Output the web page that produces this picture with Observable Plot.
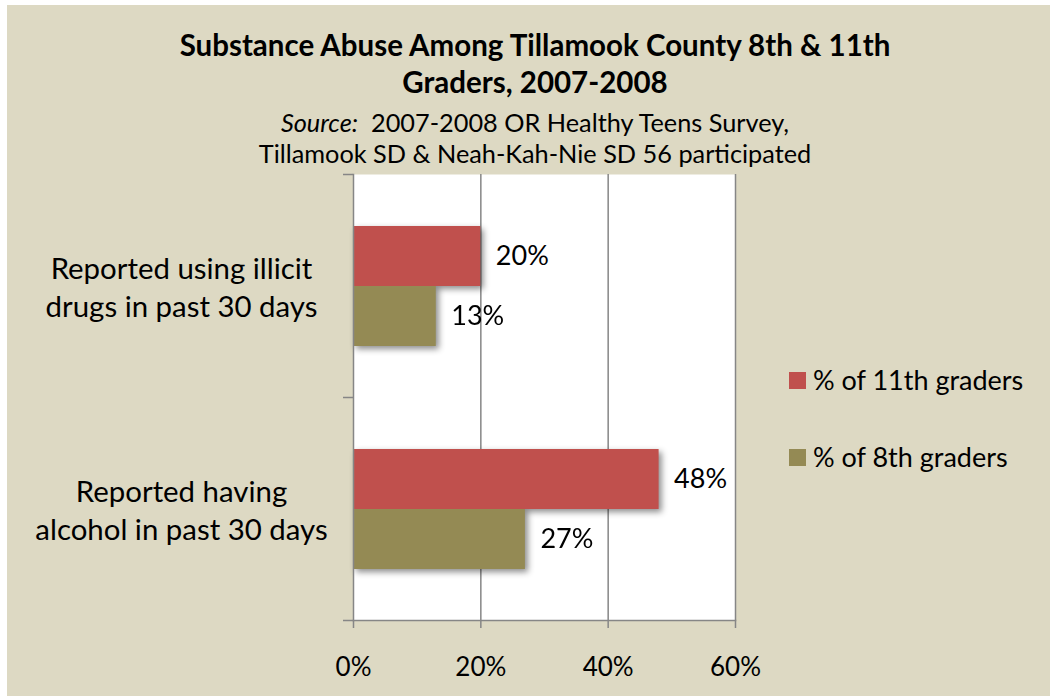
<!DOCTYPE html>
<html>
<head>
<meta charset="utf-8">
<script src="https://cdn.jsdelivr.net/npm/d3@7"></script>
<script src="https://cdn.jsdelivr.net/npm/@observablehq/plot@0.6"></script>
<style>
  html, body { margin: 0; padding: 0; background: #ffffff; }
  #wrap { position: relative; width: 1050px; height: 696px; overflow: hidden; font-family: Lato, "Open Sans", sans-serif; color: #000; }
  #panel { position: absolute; left: 7px; top: 5px; width: 1043px; height: 691px; background: #ddd9c3; }
  #chart { position: absolute; left: 0; top: 0; }
  #title { position: absolute; left: 35px; width: 1000px; top: 26px; text-align: center; font-weight: bold; font-size: 29.5px; line-height: 37px; white-space: nowrap; }
  #subtitle { position: absolute; left: 35px; width: 1000px; top: 107px; text-align: center; font-size: 25.3px; line-height: 31px; white-space: nowrap; }
  .legend-item { position: absolute; left: 789px; display: flex; align-items: center; font-size: 27px; line-height: 32px; white-space: nowrap; }
  .swatch { width: 17px; height: 17px; margin-right: 7px; flex: none; }
  g[aria-label="bar"] { filter: drop-shadow(3px 3px 3px rgba(0,0,0,0.45)); }
</style>
</head>
<body>
<div id="wrap">
  <div id="panel"></div>
  <div id="chart"></div>
  <div id="title">Substance Abuse Among Tillamook County 8th &amp; 11th<br>Graders, 2007-2008</div>
  <div id="subtitle"><i>Source:</i>&nbsp; 2007-2008 OR Healthy Teens Survey,<br>Tillamook SD &amp; Neah-Kah-Nie SD 56 participated</div>
  <div id="legend"></div>
</div>
<script>
// ---- data ----
const categories = ["Reported using illicit drugs in past 30 days", "Reported having alcohol in past 30 days"];
const categoryLines = [["Reported using illicit", "drugs in past 30 days"], ["Reported having", "alcohol in past 30 days"]];
const series = ["% of 11th graders", "% of 8th graders"];
const values11th = [20, 48];
const values8th = [13, 27];
const xTicks = [0, 20, 40, 60];
const colors = ["#c0504d", "#948a54"];

// ---- table ----
const table = [];
categories.forEach((c, i) => {
  table.push({category: c, series: series[0], value: values11th[i]});
  table.push({category: c, series: series[1], value: values8th[i]});
});
const labelOf = new Map(categories.map((c, i) => [c, categoryLines[i].join("\n")]));

// ---- layout ----
const W = 1050, H = 696, mL = 353, mR = 315, mT = 174, mB = 76;
const bandH = (H - mT - mB) / categories.length;
const grid = "#868686";

const chart = Plot.plot({
  width: W, height: H,
  marginLeft: mL, marginRight: mR, marginTop: mT, marginBottom: mB,
  style: {background: "transparent", fontFamily: "Lato, 'Open Sans', sans-serif", color: "#000", overflow: "visible"},
  x: {domain: [xTicks[0], xTicks[xTicks.length - 1]], label: null},
  y: {domain: series, paddingInner: 0, paddingOuter: 0.83, axis: null},
  fy: {domain: categories, padding: 0, label: null},
  color: {domain: series, range: colors},
  marks: [
    Plot.frame({fill: "white", stroke: null, facet: "super"}),
    Plot.ruleX(xTicks.slice(1), {stroke: grid, strokeWidth: 1.5}),
    Plot.barX(table, {x: "value", y: "series", fy: "category", fill: "series"}),
    Plot.text(table, {x: "value", y: "series", fy: "category", text: d => d.value + "%", textAnchor: "start", dx: 15, fontSize: 27, fill: "#000"}),
    Plot.frame({anchor: "left", stroke: grid, strokeWidth: 1.5, facet: "super"}),
    Plot.frame({anchor: "bottom", stroke: grid, strokeWidth: 1.5, facet: "super"}),
    Plot.axisX({anchor: "bottom", ticks: xTicks, tickFormat: d => d + "%", tickSize: 8, tickPadding: 29, fontSize: 26, stroke: grid, strokeWidth: 1.5, fill: "#000", label: null}),
    Plot.axisFy({anchor: "left", tickSize: 10, tickFormat: () => "", dy: -bandH / 2, stroke: grid, strokeWidth: 1.5, label: null}),
    Plot.axisFy({anchor: "left", ticks: [categories[categories.length - 1]], tickSize: 10, tickFormat: () => "", dy: bandH / 2, stroke: grid, strokeWidth: 1.5, label: null}),
    Plot.axisFy({anchor: "left", tickSize: 0, tickPadding: 0, tickFormat: c => labelOf.get(c), textAnchor: "middle", dx: -172, fontSize: 29.4, lineHeight: 1.29, fill: "#000", label: null})
  ]
});
document.getElementById("chart").appendChild(chart);

// ---- legend ----
const legend = document.getElementById("legend");
const legendTops = [364, 441];
series.forEach((s, i) => {
  const item = document.createElement("div");
  item.className = "legend-item";
  item.style.top = legendTops[i] + "px";
  const sw = document.createElement("div");
  sw.className = "swatch";
  sw.style.background = colors[i];
  const tx = document.createElement("span");
  tx.textContent = s;
  item.appendChild(sw);
  item.appendChild(tx);
  legend.appendChild(item);
});
</script>
</body>
</html>
